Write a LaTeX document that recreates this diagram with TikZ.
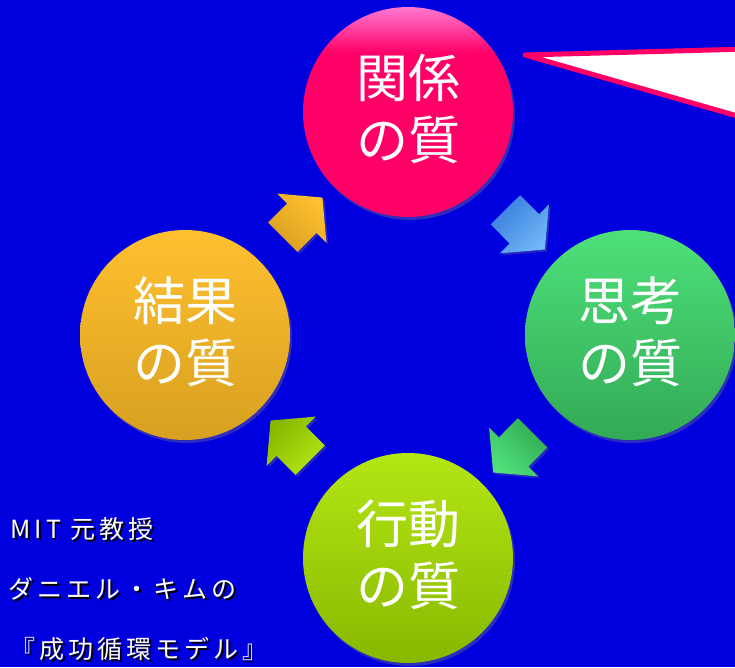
\documentclass[tikz,border=0pt]{standalone}
\usepackage{fontspec}
\newfontfamily\jpfont{Noto Sans CJK JP}
\newfontfamily\jpwide[LetterSpace=16]{Noto Sans CJK JP}
\usetikzlibrary{shapes.arrows,shadows,calc}
\definecolor{bgBlue}{RGB}{0,0,222}
\definecolor{kankeiRed}{RGB}{255,0,102}
\definecolor{kankeiTop}{RGB}{255,120,210}
\definecolor{shikouTop}{RGB}{78,224,122}
\definecolor{shikouBot}{RGB}{50,170,85}
\definecolor{koudouTop}{RGB}{180,230,20}
\definecolor{koudouBot}{RGB}{136,184,0}
\definecolor{kekkaTop}{RGB}{255,192,48}
\definecolor{kekkaBot}{RGB}{216,160,32}
\definecolor{arrowBlueTop}{RGB}{56,124,220}
\definecolor{arrowBlueBot}{RGB}{112,184,248}
\pgfdeclareverticalshading{kankeishade}{100bp}{color(0bp)=(kankeiRed); color(25bp)=(kankeiRed); color(64bp)=(kankeiRed); color(75bp)=(kankeiTop); color(100bp)=(kankeiTop)}
% white text with a small black shadow
\newcommand{\shtext}[1]{\rlap{\kern1.5pt\raisebox{-1.5pt}{\color{black}#1}}#1}
% two lines in a circle, lifted a little
\newcommand{\qtext}[2]{#1\\#2\rule[-10pt]{0pt}{10pt}}

\begin{document}
\begin{tikzpicture}[x=1pt, y=-1pt,
    quality/.style={circle, minimum size=210pt, inner sep=0pt, align=center,
      text=white, font=\jpfont\fontsize{52}{62}\selectfont,
      drop shadow={opacity=0.35, shadow xshift=2pt, shadow yshift=-3pt}},
    blockarrow/.style n args={3}{single arrow, minimum height=56pt,
      inner xsep=0pt, inner ysep=20.5pt, single arrow tip angle=100, single arrow head extend=14pt,
      sloped, allow upside down, top color=#1, bottom color=#2, shading angle=#3,
      drop shadow={opacity=0.3, shadow xshift=2pt, shadow yshift=-2pt}},
    credit/.style={anchor=west, text=white, font=\jpwide\fontsize{25}{28}\selectfont}]
  % background
  \fill[bgBlue] (0,0) rectangle (735,667);
  \useasboundingbox (0,0) rectangle (735,667);
  % speech bubble
  \filldraw[fill=white, draw=kankeiRed, line width=5pt, line join=round]
    (525,55) -- (748,49) -- (748,119) -- cycle;
  % the four qualities
  \node[quality, shading=kankeishade] (kankei) at (408,112) {\qtext{関係}{の質}};
  \node[quality, top color=shikouTop, bottom color=shikouBot] (shikou) at (630,335) {\qtext{思考}{の質}};
  \node[quality, top color=koudouTop, bottom color=koudouBot] (koudou) at (408,558) {\qtext{行動}{の質}};
  \node[quality, top color=kekkaTop, bottom color=kekkaBot] (kekka) at (185,335) {\qtext{結果}{の質}};
  % cycle arrows
  \path (kankei) -- node[blockarrow={arrowBlueTop}{arrowBlueBot}{45}] (a1) {} (shikou);
  \path (shikou) -- node[blockarrow={shikouTop}{shikouBot}{135}] (a2) {} (koudou);
  \path (koudou) -- node[blockarrow={koudouTop}{koudouBot}{-135}] (a3) {} (kekka);
  \path (kekka) -- node[blockarrow={kekkaTop}{kekkaBot}{-45}] (a4) {} (kankei);
  % credit
  \node[credit] (who) at (7,530) {\shtext{MIT 元教授}};
  \node[credit] (name) at (5,590) {\shtext{ダニエル・キムの}};
  \node[credit] (model) at (7,650) {\shtext{『成功循環モデル』}};
\end{tikzpicture}
\end{document}
